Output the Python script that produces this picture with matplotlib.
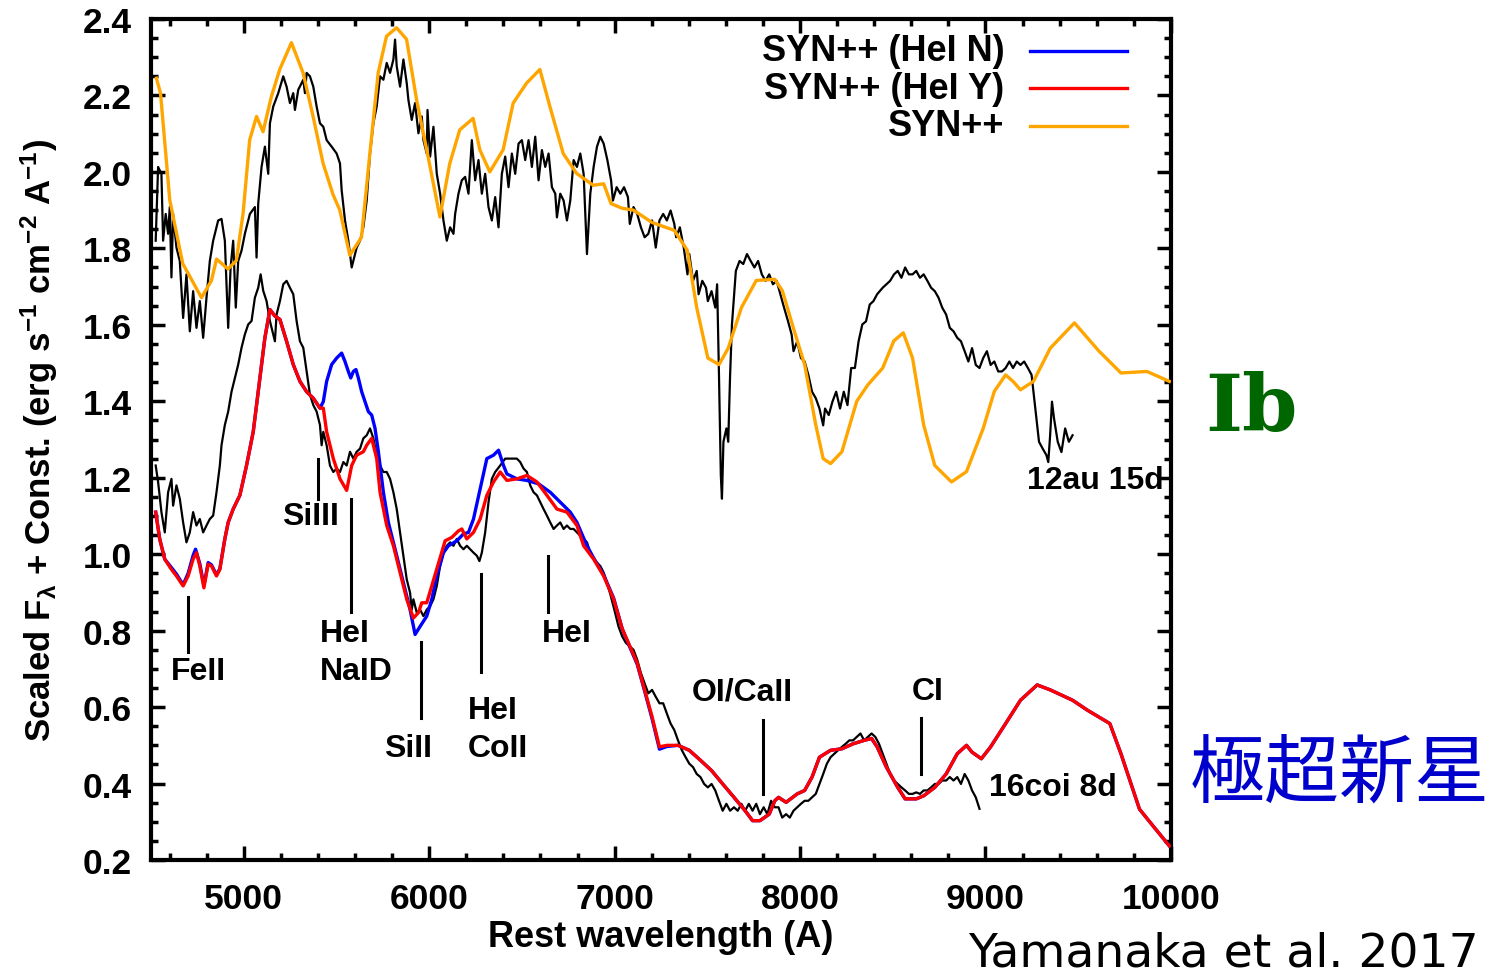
import matplotlib
matplotlib.use("Agg")
import matplotlib.pyplot as plt
from matplotlib.ticker import MultipleLocator

plt.rcParams['font.family'] = ['Liberation Sans', 'DejaVu Sans']
plt.rcParams['mathtext.default'] = 'regular'

# SN 2012au, day 15 (observed spectrum)
wl_12au = [4525, 4538, 4556, 4565, 4579, 4592, 4601, 4610, 4619, 4637, 4655, 4673, 4691, 4709, 4727, 4745,
           4763, 4781, 4799, 4817, 4835, 4862, 4880, 4898, 4916, 4929, 4943, 4957, 4970, 4988, 5006, 5033,
           5060, 5069, 5078, 5096, 5114, 5132, 5141, 5159, 5186, 5213, 5231, 5249, 5267, 5276, 5294, 5321,
           5330, 5339, 5357, 5375, 5393, 5411, 5429, 5447, 5474, 5501, 5519, 5528, 5546, 5564, 5582, 5591,
           5609, 5627, 5645, 5663, 5681, 5699, 5717, 5735, 5753, 5771, 5789, 5807, 5816, 5825, 5843, 5861,
           5879, 5888, 5906, 5924, 5942, 5960, 5969, 5987, 5991, 6005, 6023, 6041, 6059, 6077, 6095, 6113,
           6131, 6140, 6158, 6176, 6194, 6212, 6230, 6248, 6266, 6284, 6302, 6320, 6338, 6356, 6374, 6392,
           6410, 6428, 6446, 6464, 6482, 6500, 6518, 6536, 6554, 6572, 6590, 6608, 6626, 6644, 6662, 6680,
           6689, 6707, 6725, 6743, 6761, 6779, 6797, 6815, 6833, 6851, 6869, 6887, 6905, 6923,
           6941, 6961, 6981, 6991, 7011, 7031, 7051, 7072, 7082, 7102, 7122, 7142, 7162, 7182, 7202, 7222,
           7242, 7262, 7282, 7302, 7322, 7332, 7352, 7373, 7393, 7403, 7423, 7443, 7453, 7473, 7493, 7503,
           7523, 7543, 7553, 7563, 7573, 7579, 7587, 7603, 7613, 7623, 7633, 7654, 7674, 7694, 7714, 7734,
           7754, 7774, 7794, 7814, 7834, 7854, 7874, 7894, 7914, 7935, 7955, 7965, 7985, 8005, 8025, 8045,
           8065, 8085, 8105, 8125, 8135, 8155, 8175, 8195, 8216, 8236, 8256, 8276, 8296, 8316, 8336, 8356,
           8376, 8396, 8416, 8446, 8466, 8486, 8507, 8527, 8547, 8567, 8587, 8607, 8627, 8647, 8667, 8687,
           8707, 8727, 8747, 8767, 8788, 8808, 8828, 8848, 8868, 8888, 8908, 8928, 8948, 8968, 8988, 9008,
           9028, 9048, 9069, 9089, 9109, 9129, 9149, 9169, 9189, 9209, 9229, 9249, 9269, 9289, 9309, 9329,
           9339, 9349, 9359, 9370, 9390, 9410, 9430, 9450, 9470]
fl_12au = [1.820, 2.013, 1.995, 1.820, 1.890, 1.838, 1.908, 1.724, 1.890, 1.802, 1.767, 1.618, 1.732, 1.583, 1.688, 1.592,
           1.662, 1.566, 1.671, 1.767, 1.820, 1.873, 1.877, 1.820, 1.592, 1.750, 1.820, 1.645, 1.767, 1.794, 1.838, 1.890,
           1.908, 1.776, 1.917, 2.013, 2.066, 1.995, 2.127, 2.171, 2.206, 2.250, 2.223, 2.180, 2.206, 2.162, 2.215, 2.241,
           2.206, 2.259, 2.250, 2.223, 2.171, 2.127, 2.118, 2.083, 2.066, 2.048, 2.022, 1.952, 1.873, 1.820, 1.750, 1.767,
           1.802, 1.820, 1.855, 1.925, 2.048, 2.127, 2.171, 2.250, 2.241, 2.285, 2.259, 2.294, 2.346, 2.276, 2.223, 2.294,
           2.232, 2.188, 2.136, 2.180, 2.101, 2.145, 2.083, 2.048, 2.162, 2.040, 2.118, 1.995, 1.943, 1.873, 1.820, 1.855,
           1.838, 1.890, 1.943, 1.978, 1.987, 1.943, 2.083, 1.978, 2.031, 1.943, 1.995, 1.908, 1.873, 1.934, 1.855, 1.995,
           2.040, 1.960, 2.048, 1.995, 2.074, 2.083, 2.031, 2.083, 2.013, 2.092, 1.978, 2.057, 2.013, 2.048, 1.960, 1.943,
           1.881, 1.943, 1.925, 1.873, 1.925, 2.031, 2.013, 2.048, 1.995, 1.785, 1.943, 2.013, 2.066, 2.092,
           2.074, 2.031, 1.978, 1.925, 1.960, 1.943, 1.960, 1.934, 1.864, 1.908, 1.890, 1.855, 1.829, 1.838, 1.873, 1.802,
           1.873, 1.890, 1.873, 1.899, 1.864, 1.829, 1.855, 1.802, 1.732, 1.785, 1.715, 1.741, 1.680, 1.715, 1.697, 1.662,
           1.688, 1.645, 1.706, 1.469, 1.206, 1.145, 1.294, 1.329, 1.294, 1.469, 1.601, 1.741, 1.767, 1.759, 1.785, 1.767,
           1.750, 1.767, 1.732, 1.715, 1.732, 1.706, 1.715, 1.680, 1.645, 1.610, 1.574, 1.531, 1.557, 1.513, 1.504, 1.469,
           1.425, 1.408, 1.381, 1.337, 1.381, 1.364, 1.399, 1.425, 1.381, 1.425, 1.390, 1.487, 1.487, 1.557, 1.601, 1.609,
           1.653, 1.662, 1.680, 1.697, 1.706, 1.715, 1.732, 1.741, 1.723, 1.750, 1.732, 1.732, 1.741, 1.723, 1.732, 1.715,
           1.697, 1.688, 1.671, 1.645, 1.627, 1.592, 1.583, 1.566, 1.557, 1.531, 1.504, 1.539, 1.495, 1.487, 1.513, 1.531,
           1.495, 1.504, 1.478, 1.478, 1.487, 1.504, 1.487, 1.504, 1.495, 1.504, 1.487, 1.469, 1.381, 1.294, 1.276, 1.259,
           1.241, 1.311, 1.399, 1.355, 1.294, 1.267, 1.329, 1.294, 1.311]

# SYN++ fit for SN 2012au
wl_syn_ib = [4529, 4551, 4601, 4671, 4772, 4826, 4853, 4915, 4960, 4996, 5032, 5069, 5104, 5149, 5194, 5257,
             5320, 5374, 5428, 5482, 5518, 5572, 5635, 5680, 5725, 5770, 5824, 5878, 5932, 5994, 6058, 6111,
             6165, 6237, 6273, 6327, 6399, 6453, 6525, 6597, 6651, 6723, 6795, 6885, 6941, 6981, 7040, 7102,
             7201, 7322, 7392, 7443, 7503, 7563, 7613, 7684, 7764, 7864, 7905, 7964, 8025, 8085, 8125, 8165,
             8226, 8306, 8366, 8446, 8506, 8557, 8607, 8667, 8727, 8817, 8898, 8988, 9048, 9109, 9149, 9189,
             9259, 9350, 9480, 9611, 9731, 9871, 9992]
fl_syn_ib = [2.245, 2.206, 1.926, 1.760, 1.671, 1.716, 1.772, 1.746, 1.768, 1.890, 2.084, 2.145, 2.105, 2.197, 2.268, 2.338,
             2.259, 2.145, 2.022, 1.940, 1.900, 1.782, 1.829, 2.048, 2.259, 2.355, 2.377, 2.347, 2.189, 2.040, 1.882, 2.022,
             2.110, 2.140, 2.058, 2.000, 2.058, 2.180, 2.232, 2.268, 2.171, 2.048, 1.996, 1.965, 1.969, 1.917, 1.905, 1.900,
             1.868, 1.847, 1.795, 1.645, 1.513, 1.496, 1.539, 1.645, 1.716, 1.719, 1.689, 1.592, 1.496, 1.338, 1.250, 1.237,
             1.268, 1.400, 1.443, 1.487, 1.558, 1.579, 1.513, 1.338, 1.232, 1.189, 1.216, 1.329, 1.426, 1.469, 1.452, 1.430,
             1.452, 1.539, 1.605, 1.532, 1.474, 1.478, 1.452]

# SN 2016coi, day 8 (observed spectrum)
wl_16coi = [4525, 4538, 4556, 4574, 4592, 4610, 4619, 4637, 4655, 4673, 4691, 4709, 4727, 4745, 4763, 4781,
            4799, 4817, 4835, 4853, 4871, 4880, 4898, 4916, 4934, 4952, 4970, 4988, 5006, 5024, 5042, 5060,
            5078, 5091, 5105, 5123, 5141, 5155, 5168, 5177, 5195, 5213, 5231, 5249, 5267, 5285, 5303, 5321,
            5339, 5357, 5375, 5393, 5411, 5420, 5429, 5447, 5465, 5483, 5501, 5519, 5537, 5555, 5573, 5591,
            5609, 5627, 5645, 5663, 5681, 5699, 5717, 5735, 5753, 5771, 5789, 5807, 5825, 5843, 5861, 5879,
            5897, 5906, 5915, 5933, 5951, 5969, 5987, 6005, 6023, 6041, 6059, 6077, 6095, 6113, 6131, 6149,
            6167, 6185, 6203, 6221, 6239, 6257, 6271, 6284, 6302, 6320, 6338, 6356, 6383, 6410, 6437, 6455,
            6473, 6491, 6509, 6527, 6545, 6563, 6581, 6599, 6617, 6635, 6653, 6671, 6689, 6707, 6725, 6743,
            6761, 6779, 6797, 6815, 6833, 6851, 6869, 6887, 6905, 6923, 6941, 6959, 6977,
            7001, 7021, 7041, 7061, 7082, 7102, 7122, 7142, 7162, 7182, 7202, 7222, 7242, 7262, 7282, 7302,
            7322, 7342, 7363, 7383, 7403, 7423, 7443, 7463, 7483, 7503, 7523, 7543, 7563, 7583, 7603, 7623,
            7644, 7664, 7684, 7704, 7724, 7744, 7764, 7784, 7804, 7824, 7844, 7864, 7884, 7904, 7925, 7945,
            7965, 7985, 8005, 8025, 8045, 8065, 8085, 8105, 8125, 8145, 8165, 8185, 8205, 8226, 8246, 8266,
            8286, 8306, 8326, 8346, 8366, 8386, 8406, 8426, 8446, 8466, 8486, 8507, 8527, 8547, 8567, 8587,
            8607, 8627, 8647, 8667, 8687, 8707, 8727, 8747, 8767, 8788, 8808, 8828, 8848, 8868, 8888, 8908,
            8928, 8948, 8968]
fl_16coi = [1.232, 1.189, 1.110, 1.057, 1.162, 1.197, 1.127, 1.180, 1.145, 1.083, 1.031, 1.057, 1.110, 1.075, 1.092, 1.057,
            1.075, 1.092, 1.101, 1.162, 1.232, 1.285, 1.338, 1.373, 1.425, 1.461, 1.496, 1.540, 1.575, 1.601, 1.610, 1.671,
            1.697, 1.732, 1.689, 1.662, 1.610, 1.583, 1.557, 1.627, 1.662, 1.706, 1.715, 1.697, 1.680, 1.610, 1.557, 1.540,
            1.478, 1.417, 1.390, 1.373, 1.338, 1.285, 1.320, 1.285, 1.232, 1.215, 1.224, 1.215, 1.241, 1.232, 1.268, 1.250,
            1.268, 1.276, 1.303, 1.311, 1.329, 1.303, 1.259, 1.232, 1.215, 1.215, 1.197, 1.162, 1.118, 1.057, 0.996, 0.934,
            0.899, 0.855, 0.882, 0.847, 0.855, 0.838, 0.855, 0.864, 0.882, 0.917, 0.969, 1.004, 1.022, 1.031, 1.022, 1.040,
            1.022, 1.013, 1.022, 1.013, 1.004, 0.996, 0.982, 1.004, 1.057, 1.136, 1.197, 1.215, 1.232, 1.250, 1.250, 1.250,
            1.250, 1.241, 1.224, 1.215, 1.180, 1.162, 1.154, 1.136, 1.118, 1.101, 1.083, 1.066, 1.075, 1.083, 1.066, 1.075,
            1.066, 1.066, 1.057, 1.048, 1.040, 1.031, 1.004, 0.987, 0.978, 0.969, 0.952, 0.925, 0.895,
            0.850, 0.811, 0.785, 0.768, 0.759, 0.750, 0.724, 0.689, 0.662, 0.636, 0.645, 0.627, 0.610, 0.610, 0.583, 0.557,
            0.540, 0.513, 0.487, 0.469, 0.452, 0.443, 0.425, 0.417, 0.399, 0.390, 0.399, 0.382, 0.355, 0.329, 0.347, 0.329,
            0.338, 0.329, 0.347, 0.329, 0.347, 0.329, 0.347, 0.320, 0.338, 0.320, 0.355, 0.338, 0.338, 0.311, 0.320, 0.311,
            0.329, 0.338, 0.347, 0.355, 0.355, 0.364, 0.373, 0.399, 0.425, 0.452, 0.469, 0.478, 0.487, 0.496, 0.504, 0.513,
            0.513, 0.522, 0.531, 0.513, 0.522, 0.531, 0.522, 0.504, 0.478, 0.452, 0.425, 0.408, 0.399, 0.390, 0.382, 0.373,
            0.373, 0.377, 0.373, 0.382, 0.382, 0.390, 0.399, 0.399, 0.408, 0.408, 0.417, 0.408, 0.417, 0.399, 0.425, 0.408,
            0.382, 0.364, 0.334]

# SYN++ fit for SN 2016coi with HeI (Y)
wl_he_y = [4525, 4547, 4574, 4610, 4637, 4673, 4700, 4727, 4745, 4763, 4785, 4808, 4826, 4853, 4871, 4898,
           4916, 4943, 4979, 5015, 5051, 5087, 5114, 5141, 5168, 5195, 5231, 5267, 5303, 5339, 5375, 5411,
           5429, 5447, 5483, 5519, 5555, 5582, 5609, 5645, 5663, 5690, 5717, 5735, 5771, 5807, 5843, 5879,
           5915, 5942, 5960, 5987, 6014, 6041, 6068, 6086, 6122, 6158, 6176, 6203, 6239, 6275, 6311, 6347,
           6383, 6419, 6473, 6527, 6581, 6635, 6689, 6743, 6797, 6833, 6887, 6941, 6995, 7041, 7082, 7122,
           7162, 7202, 7242, 7282, 7342, 7403, 7463, 7523, 7583, 7644, 7704, 7744, 7784, 7834, 7864, 7884,
           7925, 7985, 8025, 8065, 8105, 8165, 8226, 8286, 8346, 8386, 8416, 8466, 8527, 8567, 8627, 8667,
           8727, 8788, 8848, 8898, 8928, 8978, 9028, 9109, 9189, 9279, 9350, 9470, 9550, 9671, 9731, 9831,
           9911, 9992]
fl_he_y = [1.110, 1.039, 0.987, 0.960, 0.943, 0.917, 0.943, 0.987, 1.004, 0.969, 0.912, 0.974, 0.969, 0.943, 0.960, 1.040,
           1.083, 1.118, 1.154, 1.232, 1.320, 1.461, 1.566, 1.640, 1.623, 1.614, 1.557, 1.496, 1.452, 1.425, 1.408, 1.382,
           1.382, 1.320, 1.250, 1.197, 1.167, 1.232, 1.259, 1.268, 1.285, 1.303, 1.250, 1.162, 1.075, 1.022, 0.952, 0.882,
           0.833, 0.847, 0.873, 0.873, 0.917, 0.960, 1.004, 1.035, 1.044, 1.061, 1.066, 1.040, 1.057, 1.092, 1.154, 1.189,
           1.215, 1.193, 1.197, 1.206, 1.189, 1.154, 1.118, 1.110, 1.075, 1.022, 0.987, 0.943, 0.882, 0.805, 0.760, 0.715,
           0.645, 0.575, 0.496, 0.500, 0.500, 0.487, 0.461, 0.434, 0.399, 0.364, 0.329, 0.303, 0.303, 0.320, 0.355, 0.364,
           0.351, 0.373, 0.382, 0.417, 0.469, 0.487, 0.491, 0.504, 0.513, 0.518, 0.496, 0.443, 0.390, 0.360, 0.360, 0.368,
           0.390, 0.425, 0.478, 0.500, 0.482, 0.465, 0.496, 0.557, 0.618, 0.658, 0.645, 0.618, 0.592, 0.557, 0.478, 0.333,
           0.285, 0.237]

# SYN++ fit for SN 2016coi without HeI (N)
wl_he_n = [4525, 4547, 4574, 4610, 4637, 4673, 4700, 4727, 4740, 4763, 4785, 4808, 4826, 4853, 4871, 4898,
           4916, 4943, 4979, 5015, 5051, 5087, 5114, 5141, 5168, 5195, 5231, 5267, 5303, 5339, 5375, 5411,
           5429, 5447, 5474, 5501, 5528, 5546, 5564, 5577, 5591, 5605, 5618, 5636, 5654, 5672, 5690, 5708,
           5726, 5753, 5780, 5825, 5861, 5897, 5924, 5951, 5987, 6014, 6041, 6077, 6104, 6149, 6185, 6212,
           6239, 6275, 6311, 6347, 6374, 6401, 6419, 6473, 6527, 6590, 6653, 6707, 6761, 6797, 6851, 6887,
           6941, 6995, 7041, 7082, 7122, 7162, 7202, 7242, 7282, 7342, 7403, 7463, 7523, 7583, 7644, 7704,
           7744, 7784, 7834, 7864, 7884, 7925, 7985, 8025, 8065, 8105, 8165, 8226, 8286, 8346, 8386, 8416,
           8466, 8527, 8567, 8627, 8667, 8727, 8788, 8848, 8898, 8928, 8978, 9028, 9109, 9189, 9279, 9350,
           9470, 9550, 9671, 9731, 9831, 9911, 9992]
fl_he_n = [1.110, 1.039, 0.987, 0.965, 0.948, 0.920, 0.950, 0.997, 1.013, 0.975, 0.918, 0.978, 0.972, 0.946, 0.962, 1.040,
           1.083, 1.118, 1.154, 1.232, 1.320, 1.461, 1.566, 1.640, 1.623, 1.614, 1.557, 1.496, 1.452, 1.425, 1.408, 1.382,
           1.399, 1.452, 1.496, 1.513, 1.526, 1.504, 1.478, 1.461, 1.478, 1.483, 1.461, 1.425, 1.399, 1.373, 1.364, 1.329,
           1.268, 1.162, 1.083, 0.996, 0.925, 0.855, 0.790, 0.811, 0.838, 0.882, 0.943, 1.004, 1.022, 1.035, 1.053, 1.057,
           1.092, 1.171, 1.250, 1.259, 1.272, 1.232, 1.210, 1.197, 1.193, 1.184, 1.162, 1.136, 1.110, 1.083, 1.022, 0.990,
           0.946, 0.885, 0.805, 0.757, 0.712, 0.642, 0.570, 0.490, 0.497, 0.500, 0.487, 0.461, 0.434, 0.399, 0.364, 0.329,
           0.303, 0.303, 0.320, 0.355, 0.364, 0.351, 0.373, 0.382, 0.417, 0.469, 0.487, 0.491, 0.504, 0.513, 0.518, 0.496,
           0.443, 0.390, 0.360, 0.360, 0.368, 0.390, 0.425, 0.478, 0.500, 0.482, 0.465, 0.496, 0.557, 0.618, 0.658, 0.645,
           0.618, 0.592, 0.557, 0.478, 0.333, 0.285, 0.237]

# line identification markers: x, y bottom, y top
id_marks = [(4698, 0.745, 0.889), (5400, 1.145, 1.250), (5577, 0.850, 1.145), (5955, 0.571, 0.771),
            (6279, 0.692, 0.947), (6640, 0.850, 0.995), (7800, 0.374, 0.566), (8653, 0.426, 0.571)]
# line identification labels: text, x, y, alignment
id_labels = [("FeII", 4757, 0.695, "center"), ("SiIII", 5362, 1.100, "center"),
             ("HeI", 5410, 0.795, "left"), ("NaID", 5410, 0.695, "left"),
             ("SiII", 5885, 0.492, "center"), ("HeI", 6209, 0.592, "left"),
             ("CoII", 6209, 0.492, "left"), ("HeI", 6743, 0.795, "center"),
             ("OI/CaII", 7687, 0.642, "center"), ("CI", 8691, 0.642, "center")]

fig = plt.figure(figsize=(15.03, 9.79), dpi=100)
ax = fig.add_axes([0.1005, 0.1205, 0.6785, 0.8591])

ax.plot(wl_12au, fl_12au, color='black', lw=1.6, zorder=2)
ax.plot(wl_16coi, fl_16coi, color='black', lw=1.6, zorder=2)
ax.plot(wl_he_n, fl_he_n, color='#0000ff', lw=2.4, zorder=3)
ax.plot(wl_he_y, fl_he_y, color='#ff0000', lw=2.4, zorder=4)
ax.plot(wl_syn_ib, fl_syn_ib, color='#ffa500', lw=2.4, zorder=4)

for lx, y0, y1 in id_marks:
    ax.plot([lx, lx], [y0, y1], color='black', lw=2.2, zorder=5)
for txt, tx, ty, ha in id_labels:
    ax.text(tx, ty, txt, ha=ha, va='center', fontsize=23, fontweight='bold', zorder=6)

ax.text(9592, 1.195, "12au 15d", ha='center', va='center', fontsize=23, fontweight='bold')
ax.text(9365, 0.392, "16coi 8d", ha='center', va='center', fontsize=23, fontweight='bold')

# legend drawn gnuplot style: right aligned text with a line sample
legend_rows = [("SYN++ (HeI N)", '#0000ff'), ("SYN++ (HeI Y)", '#ff0000'), ("SYN++", '#ffa500')]
for i, (name, col) in enumerate(legend_rows):
    yy = 0.962 - i * 0.0445
    ax.text(0.837, yy, name, transform=ax.transAxes, ha='right', va='center',
            fontsize=26, fontweight='bold')
    ax.plot([0.862, 0.957], [yy, yy], transform=ax.transAxes, color=col, lw=2.4)

ax.set_xlim(4500, 10000)
ax.set_ylim(0.2, 2.4)
ax.xaxis.set_minor_locator(MultipleLocator(200))
ax.yaxis.set_minor_locator(MultipleLocator(0.05))
ax.set_xticks([5000, 6000, 7000, 8000, 9000, 10000])
ax.set_yticks([0.2, 0.4, 0.6, 0.8, 1.0, 1.2, 1.4, 1.6, 1.8, 2.0, 2.2, 2.4])
ax.yaxis.set_major_formatter(plt.FuncFormatter(lambda v, p: "%.1f" % v))
ax.tick_params(which='both', direction='in', top=True, right=True, width=2.5, labelsize=25.5)
ax.tick_params(axis='x', which='major', length=10, pad=16)
ax.tick_params(axis='y', which='major', length=10, pad=14)
ax.tick_params(which='minor', length=5)
for lab in ax.get_xticklabels() + ax.get_yticklabels():
    lab.set_fontweight('bold')
for sp in ax.spines.values():
    sp.set_linewidth(3)

ax.set_xlabel("Rest wavelength (A)", fontsize=26, fontweight='bold', labelpad=3)
ax.set_ylabel(r"Scaled F$_\lambda$ + Const. (erg s$^{-1}$ cm$^{-2}$ A$^{-1}$)",
              fontsize=25, fontweight='bold', labelpad=16)

fig.text(0.8325, 0.582, "Ib", color='#006600', fontsize=57, fontweight='bold',
         family='DejaVu Serif', ha='center', va='center')
fig.text(0.8915, 0.208, "極超新星", color='#0000cc', fontsize=54,
         family=['Noto Sans CJK JP', 'DejaVu Sans'], ha='center', va='center')
fig.text(0.8137, 0.026, "Yamanaka et al. 2017", color='black', fontsize=34,
         family='DejaVu Sans', ha='center', va='center')

fig.savefig("out.png", dpi=100)
